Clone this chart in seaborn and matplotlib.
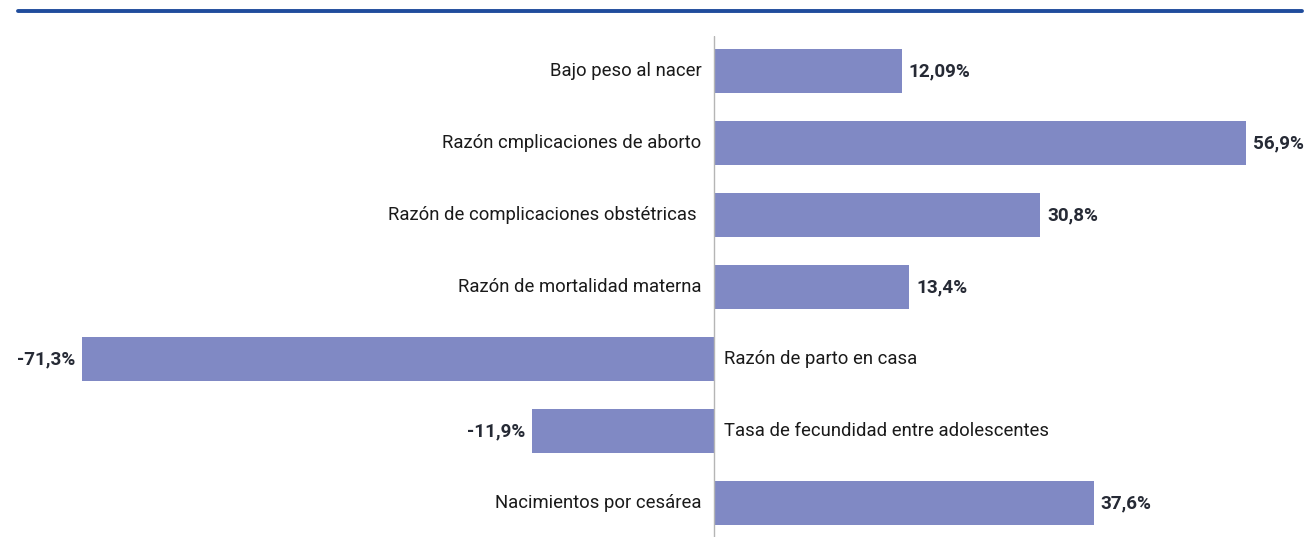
import matplotlib
matplotlib.use("Agg")
import matplotlib.pyplot as plt
import seaborn as sns
import pandas as pd
from matplotlib.lines import Line2D

categories = [
    "Bajo peso al nacer",
    "Razón cmplicaciones de aborto",
    "Razón de complicaciones obstétricas ",
    "Razón de mortalidad materna",
    "Razón de parto en casa",
    "Tasa de fecundidad entre adolescentes",
    "Nacimientos por cesárea",
]
# bar lengths as drawn in the picture (percentage points)
bar_lengths = [20.1, 56.9, 34.9, 20.9, -67.4, -19.4, 40.6]
value_labels = ["12,09%", "56,9%", "30,8%", "13,4%", "-71,3%", "-11,9%", "37,6%"]

sns.set_theme(style="white")
plt.rcParams["font.family"] = ["Roboto", "DejaVu Sans"]

df = pd.DataFrame({"cat": categories, "val": bar_lengths})

fig = plt.figure(figsize=(13.05, 5.37), dpi=100)
ax = fig.add_axes([0, 0, 1, 501 / 537])
sns.barplot(data=df, x="val", y="cat", orient="h", color="#8089C4",
            saturation=1, width=0.61, linewidth=0, ax=ax)

ax.set_xlim(-713.5 / 9.367, 591.5 / 9.367)
ax.set_ylim(6.472, -0.486)
ax.axvline(0, color="#b5b5b5", lw=1.0, zorder=3)
for s in ax.spines.values():
    s.set_visible(False)
ax.set_xticks([])
ax.set_yticks([])
ax.set_xlabel("")
ax.set_ylabel("")

cat_size = 13.3
val_size = 13.6
for i, (c, v, lab) in enumerate(zip(categories, bar_lengths, value_labels)):
    if v >= 0:
        ax.annotate(lab, xy=(v, i), xytext=(5, 0), textcoords="offset points",
                    ha="left", va="center", fontsize=val_size, fontweight="bold",
                    color="#262a35")
        ax.annotate(c, xy=(0, i), xytext=(-8.5, 0), textcoords="offset points",
                    ha="right", va="center", fontsize=cat_size, color="#1a1a1a")
    else:
        ax.annotate(lab, xy=(v, i), xytext=(-5, 0), textcoords="offset points",
                    ha="right", va="center", fontsize=val_size, fontweight="bold",
                    color="#262a35")
        ax.annotate(c, xy=(0, i), xytext=(7.5, 0), textcoords="offset points",
                    ha="left", va="center", fontsize=cat_size, color="#1a1a1a")

fig.add_artist(Line2D([18 / 1305, 1302 / 1305], [1 - 11 / 537, 1 - 11 / 537],
                      color="#1f4c9c", lw=2.8, transform=fig.transFigure))

fig.savefig("out.png", dpi=100)
